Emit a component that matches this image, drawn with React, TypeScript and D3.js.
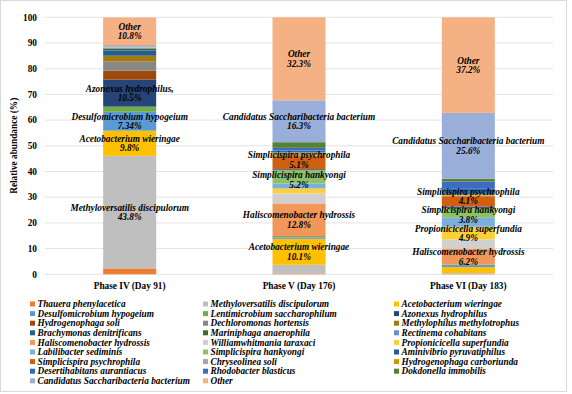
import React, { useEffect, useRef } from 'react';
import * as d3 from 'd3';

const phases = ['Phase IV (Day 91)', 'Phase V (Day 176)', 'Phase VI (Day 183)'];

const species = [
  'Thauera phenylacetica', 'Methyloversatilis discipulorum', 'Acetobacterium wieringae',
  'Desulfomicrobium hypogeium', 'Lentimicrobium saccharophilum', 'Azonexus hydrophilus',
  'Hydrogenophaga soli', 'Dechloromonas hortensis', 'Methylophilus methylotrophus',
  'Brachymonas denitrificans', 'Mariniphaga anaerophila', 'Rectinema cohabitans',
  'Haliscomenobacter hydrossis', 'Williamwhitmania taraxaci', 'Propionicicella superfundia',
  'Labilibacter sediminis', 'Simplicispira hankyongi', 'Aminivibrio pyruvatiphilus',
  'Simplicispira psychrophila', 'Chryseolinea soli', 'Hydrogenophaga carboriunda',
  'Desertihabitans aurantiacus', 'Rhodobacter blasticus', 'Dokdonella immobilis',
  'Candidatus Saccharibacteria bacterium', 'Other',
];

const colors = [
  '#ED7D31', '#BFBFBF', '#FFC000',
  '#5B9BD5', '#70AD47', '#264478',
  '#9E480E', '#878787', '#A37A10',
  '#255E91', '#43682B', '#698ED0',
  '#F1975A', '#D0D0D0', '#FFD033',
  '#7CAFDD', '#8CC168', '#2F54A0',
  '#D0600F', '#A5A5A5', '#CC9A00',
  '#2E6DB4', '#3F6CC2', '#548235',
  '#9AAEDA', '#F4B183',
];

// relative abundance (%) in species order
const phaseIV = [2.3, 43.8, 9.8, 7.34, 2.0, 10.5, 3.5, 3.5, 2.3, 2.0, 0.7, 0.5, 0.1, 0.1, 0.1, 0.3, 0.1, 0.1, 0.1, 0, 0, 0, 0, 0, 0, 10.8];
const phaseV = [0.3, 3.4, 10.1, 0.5, 0.3, 0.2, 0, 0, 0, 0, 0, 0, 12.8, 3.9, 1.9, 1.9, 5.2, 0.4, 5.1, 0.4, 1.0, 0.8, 1.0, 2.2, 16.3, 32.3];
const phaseVI = [0.2, 0.3, 2.3, 0.8, 0.2, 0, 0, 0, 0, 0, 0, 0, 6.2, 3.6, 4.9, 3.5, 3.8, 0.5, 4.1, 0.3, 0.5, 2.3, 2.6, 1.1, 25.6, 37.2];

// segments that carry a data label, per phase
const labelsIV = ['Methyloversatilis discipulorum', 'Acetobacterium wieringae', 'Desulfomicrobium hypogeium', 'Azonexus hydrophilus', 'Other'];
const labelsV = ['Acetobacterium wieringae', 'Haliscomenobacter hydrossis', 'Simplicispira hankyongi', 'Simplicispira psychrophila', 'Candidatus Saccharibacteria bacterium', 'Other'];
const labelsVI = ['Haliscomenobacter hydrossis', 'Propionicicella superfundia', 'Simplicispira hankyongi', 'Simplicispira psychrophila', 'Candidatus Saccharibacteria bacterium', 'Other'];

const yTicks = [0, 10, 20, 30, 40, 50, 60, 70, 80, 90, 100];

const FONT = '"Liberation Serif", "Times New Roman", serif';

const App = () => {
  const ref = useRef<SVGSVGElement>(null);

  const graph = () => {
    const svg = d3.select(ref.current);
    svg.selectAll('*').remove();

    const left = 45, right = 553, top = 17.3, bottom = 274.3;

    // chart frame
    svg.append('rect')
      .attr('x', 0.5).attr('y', 0.5)
      .attr('width', 566).attr('height', 391)
      .attr('fill', '#fff')
      .attr('stroke', '#D9D9D9');

    const x = d3.scaleBand<string>()
      .domain(phases)
      .range([left, right])
      .paddingInner(0.687)
      .paddingOuter(0.3435);

    const y = d3.scaleLinear().domain([0, 100]).range([bottom, top]);

    // gridlines
    svg.append('g')
      .selectAll('line')
      .data(yTicks)
      .enter().append('line')
      .attr('x1', left).attr('x2', right)
      .attr('y1', (d) => y(d)).attr('y2', (d) => y(d))
      .attr('stroke', '#E3E3E3')
      .attr('stroke-width', 1);

    // tick labels
    svg.append('g')
      .selectAll('text')
      .data(yTicks)
      .enter().append('text')
      .attr('x', 37)
      .attr('y', (d) => y(d))
      .attr('dy', '0.35em')
      .attr('text-anchor', 'end')
      .style('font-family', FONT)
      .style('font-weight', 'bold')
      .style('font-size', '9.3px')
      .text((d) => d);

    svg.append('text')
      .attr('transform', `translate(14, ${(top + bottom) / 2}) rotate(-90)`)
      .attr('text-anchor', 'middle')
      .attr('dy', '0.35em')
      .style('font-family', FONT)
      .style('font-weight', 'bold')
      .style('font-size', '9.3px')
      .text('Relative abundance (%)');

    const rows = [phaseIV, phaseV, phaseVI].map((vals, i) => {
      const row: any = { phase: phases[i] };
      species.forEach((s, j) => { row[s] = vals[j]; });
      return row;
    });

    const series = d3.stack().keys(species)(rows);
    const color = d3.scaleOrdinal<string>().domain(species).range(colors);

    svg.append('g')
      .selectAll('g')
      .data(series)
      .enter().append('g')
      .attr('fill', (d) => color(d.key))
      .selectAll('rect')
      .data((d) => d)
      .enter().append('rect')
      .attr('x', (d: any) => x(d.data.phase)!)
      .attr('width', x.bandwidth())
      .attr('y', (d) => y(d[1]))
      .attr('height', (d) => Math.max(0, y(d[0]) - y(d[1])));

    // category labels
    svg.append('g')
      .selectAll('text')
      .data(phases)
      .enter().append('text')
      .attr('x', (d) => x(d)! + x.bandwidth() / 2)
      .attr('y', 286)
      .attr('dy', '0.35em')
      .attr('text-anchor', 'middle')
      .style('font-family', FONT)
      .style('font-weight', 'bold')
      .style('font-size', '9.3px')
      .text((d) => d);

    // data labels; a few were nudged apart in the original
    const nudge: Record<string, number> = {
      '1|Simplicispira hankyongi': 3, '1|Simplicispira psychrophila': -3,
      '2|Simplicispira hankyongi': 2, '2|Simplicispira psychrophila': -5,
    };
    const labelSets = [labelsIV, labelsV, labelsVI];
    const labelData: any[] = [];
    labelSets.forEach((names, pi) => {
      names.forEach((name) => {
        const seg = series[species.indexOf(name)][pi];
        labelData.push({
          cx: x(phases[pi])! + x.bandwidth() / 2,
          cy: (y(seg[0]) + y(seg[1])) / 2 + (nudge[`${pi}|${name}`] || 0),
          name: name === 'Azonexus hydrophilus' ? 'Azonexus hydrophilus,' : name,
          value: `${+(seg[1] - seg[0]).toFixed(2)}%`,
        });
      });
    });

    const lab = svg.append('g')
      .selectAll('g')
      .data(labelData)
      .enter().append('g')
      .attr('transform', (d) => `translate(${d.cx}, ${d.cy})`)
      .style('font-family', FONT)
      .style('font-weight', 'bold')
      .style('font-style', 'italic')
      .style('font-size', '9.3px')
      .attr('text-anchor', 'middle');

    lab.append('text').attr('y', -4.7).attr('dy', '0.35em').text((d) => d.name);
    lab.append('text').attr('y', 4.7).attr('dy', '0.35em').text((d) => d.value);

    // legend, 3 columns row by row
    const colX = [30, 203, 394];
    const legend = svg.append('g')
      .selectAll('g')
      .data(species)
      .enter().append('g')
      .attr('transform', (d, i) => `translate(${colX[i % 3]}, ${304 + Math.floor(i / 3) * 9.6})`);

    legend.append('rect')
      .attr('x', 0).attr('y', -2.5)
      .attr('width', 5).attr('height', 5)
      .attr('fill', (d) => color(d));

    legend.append('text')
      .attr('x', 7.5)
      .attr('dy', '0.35em')
      .style('font-family', FONT)
      .style('font-weight', 'bold')
      .style('font-style', 'italic')
      .style('font-size', '9.3px')
      .text((d) => d);
  };

  useEffect(() => graph());

  return (
    <svg ref={ref} width={572} height={394} style={{ position: 'absolute', left: 0, top: 0 }}></svg>
  );
};

export default App;
